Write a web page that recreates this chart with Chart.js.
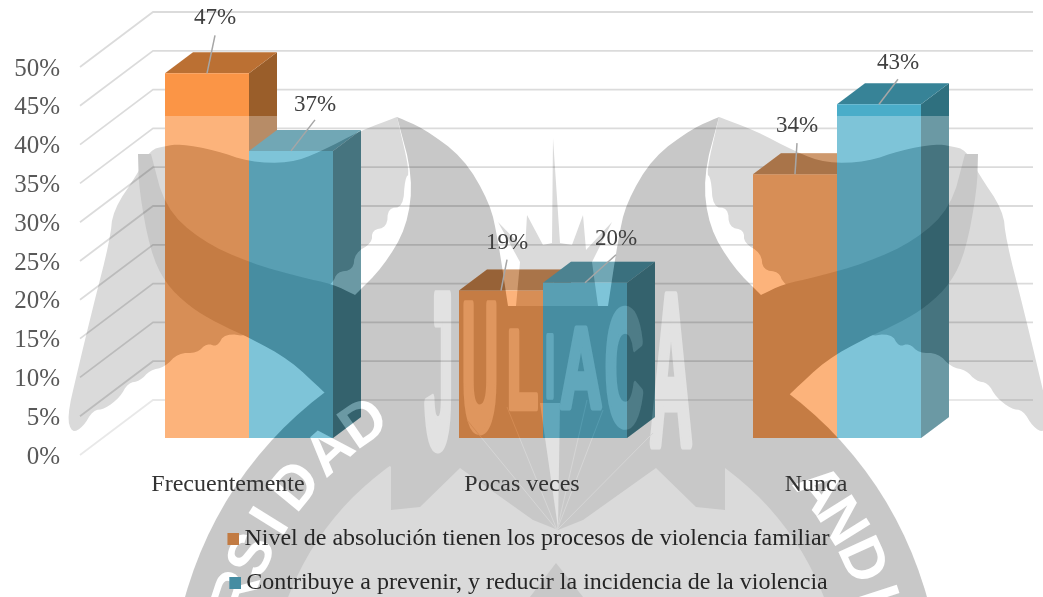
<!DOCTYPE html>
<html lang="es">
<head>
<meta charset="utf-8">
<title>Nivel de absolución</title>
<script src="https://cdn.jsdelivr.net/npm/chart.js@4/dist/chart.umd.min.js"></script>
<style>
  html, body { margin:0; padding:0; background:#fff; }
  canvas { display:block; }
</style>
</head>
<body>
<canvas id="chart" width="1043" height="597"></canvas>
<script>
// ---- datos -----------------------------------------------------------------
const categories = ["Frecuentemente", "Pocas veces", "Nunca"];
const absolucion = [47, 19, 34];
const contribuye = [37, 20, 43];
const seriesNames = [
  "Nivel de absolución tienen los procesos de violencia familiar",
  "Contribuye a prevenir, y reducir la incidencia de la violencia"
];

// ---- estilo ----------------------------------------------------------------
const frontColors  = ["#FB9546", "#4AADC9"];
const topColors    = ["#BB7033", "#378397"];
const sideColors   = ["#9A5E2A", "#2F707F"];
const legendColors = ["#C27B43", "#458CA2"];
const DEPTH_X = 28, DEPTH_Y = 21;        // fondo de cada barra 3D
const WALL_FRONT = { x:80,  dy:17 };     // extremo delantero de la grilla
const WALL_BACK  = { x:153, dy:-38, right:1033 };
const VEIL_Y = 116;                      // la marca de agua empieza aquí
const VEIL_ALPHA = 0.29;                 // opacidad de la marca de agua sobre las barras
// desplazamiento [dx, dy] etiqueta / arranque de la guía, por serie y categoría
const labelShift = [
  [[8,-55,-38],  [6,-48,-31],  [2,-48,-31]],
  [[24,-46,-31], [31,-44,-28], [19,-41,-25]]
];

// ---- marca de agua (escudo de fondo) ---------------------------------------
const MIRROR = 1116;
const chaikin = pts => {
  let out = pts;
  for (let k = 0; k < 2; k++) {
    const next = [out[0]];
    for (let i = 0; i < out.length - 1; i++) {
      const [a, b] = [out[i], out[i+1]];
      next.push([a[0]*.75+b[0]*.25, a[1]*.75+b[1]*.25], [a[0]*.25+b[0]*.75, a[1]*.25+b[1]*.75]);
    }
    next.push(out[out.length-1]);
    out = next;
  }
  return out;
};
const fillPoly = (c, pts, color) => {
  c.fillStyle = color;
  c.beginPath();
  pts.forEach((p, i) => i ? c.lineTo(p[0], p[1]) : c.moveTo(p[0], p[1]));
  c.closePath();
  c.fill();
};
const mirrored = pts => pts.map(p => [MIRROR - p[0], p[1]]);

function buildWatermark(){
  const cv = document.createElement("canvas");
  cv.width = 1043; cv.height = 597;
  const c = cv.getContext("2d");
  const LIGHT = "#DADADA", DARK = "#C8C8C8";
  c.fillStyle = "#fff"; c.fillRect(0, 0, 1043, 597);

  // alas
  const wing = chaikin([[397,117],[362,130],[320,152],[290,163],[249,162],[215,150],[180,144],[165,146],[150,150],
    [138,173],[113,210],[110,240],[93,307],[77,373],[67,417],[72,433],[83,427],[93,410],[105,409],[120,397],[128,383],
    [140,381],[150,370],[165,367],[178,353],[197,353],[207,343],[217,347],[225,333],[250,337],[300,310],[333,283],
    [337,272],[353,270],[355,253],[372,243],[372,230],[387,227],[388,208],[403,207],[405,178],[410,173],[397,117]]);
  fillPoly(c, wing, LIGHT);
  fillPoly(c, mirrored(wing), LIGHT);

  // anillo
  c.fillStyle = DARK;
  c.beginPath(); c.arc(556, 700, 385, 0, Math.PI*2); c.fill();
  c.fillStyle = LIGHT;
  c.beginPath(); c.arc(556, 700, 287, 0, Math.PI*2); c.fill();

  // cuerpo oscuro central
  const half = [
    [558,530],[533,520],[460,468],[420,507],[391,510],[391,467],
    ...chaikin([[325,393],[290,360],[250,338],[217,323],[190,307],[165,283],[150,250],[139,190],[138,154]]),
    ...chaikin([[151,154],[165,207],[200,240],[250,263],[300,277],[333,284],[355,295]]),
    ...chaikin([[355,295],[383,267],[407,227],[413,177],[397,117]]),
    ...chaikin([[397,117],[423,128],[463,157],[490,203],[498,240],[508,306]]),
    [558,306]
  ];
  fillPoly(c, [...half, ...mirrored(half).reverse()], DARK);
  fillPoly(c, [[556,563],[530,597],[583,597]], DARK);

  // sol y rayos
  fillPoly(c, [[516,306],[520,262],[498,222],[525,250],[527,215],[543,245],[552,243],[553,138],[560,243],
    [572,245],[583,215],[586,250],[612,222],[592,262],[598,306]], LIGHT);

  // JULIACA
  const letters = [["J",425,453,290,445],["U",462,498,300,428],["L",507,538,328,408],["I",545,555,333,397],
    ["A",560,602,325,407],["C",605,643,307,423],["A",650,692,290,443]];
  c.fillStyle = c.strokeStyle = "#E2E2E2";
  c.lineJoin = "round";
  c.font = "bold 100px 'Liberation Sans'";
  c.textAlign = "left"; c.textBaseline = "alphabetic";
  letters.forEach(([ch, x0, x1, y0, y1]) => {
    c.save();
    c.translate(x0, y1);
    c.scale((x1-x0)/c.measureText(ch).width, (y1-y0)/72);
    c.lineWidth = 6;
    c.strokeText(ch, 0, 0);
    c.fillText(ch, 0, 0);
    c.restore();
  });

  // abanico inferior
  fillPoly(c, [[540,403],[560,403],[558,528]], "#E2E2E2");
  c.strokeStyle = "#D6D6D6"; c.lineWidth = 1;
  [[467,420],[507,407],[587,400],[603,410],[653,433]].forEach(p => {
    c.beginPath(); c.moveTo(557,530); c.lineTo(p[0],p[1]); c.stroke();
  });

  // texto del anillo
  c.fillStyle = "#fff";
  c.font = "bold 60px 'Liberation Sans'";
  c.textAlign = "center"; c.textBaseline = "middle";
  [["D",-34.8],["A",-42.3],["D",-50.6],["I",-58],["S",-64.6],["R",-71.6],
   ["A",51.3],["N",58],["D",65.5],["I",72]].forEach(([ch, deg]) => {
    const a = deg*Math.PI/180;
    c.save();
    c.translate(556 + 335*Math.sin(a), 700 - 335*Math.cos(a));
    c.rotate(a);
    c.fillText(ch, 0, 0);
    c.restore();
  });
  return cv;
}
const watermark = buildWatermark();

// la misma imagen con el contraste que, a VEIL_ALPHA, da esos grises sobre blanco
function buildVeil(src){
  const cv = document.createElement("canvas");
  cv.width = src.width; cv.height = src.height;
  const c = cv.getContext("2d");
  const img = src.getContext("2d").getImageData(0, 0, src.width, src.height);
  for (let i = 0; i < img.data.length; i += 4) {
    const g = (img.data[i] - 255*(1 - VEIL_ALPHA)) / VEIL_ALPHA;
    img.data[i] = img.data[i+1] = img.data[i+2] = g;
  }
  c.putImageData(img, 0, 0);
  return cv;
}
const veil = buildVeil(watermark);

// muestra de leyenda: el lienzo sobresale a los lados para pegar el cuadro al texto
function legendSwatch(color){
  const cv = document.createElement("canvas");
  cv.width = 26; cv.height = 12;
  const c = cv.getContext("2d");
  c.fillStyle = color;
  c.fillRect(14, 0, 12, 12);
  return cv;
}

// ---- plugin: fondo, paredes, caras 3D y etiquetas ----------------------------
const bars3d = {
  id: "bars3d",
  afterLayout(chart){
    const lg = chart.legend;
    lg.left += 33; lg.right += 33;
    lg.top += 8; lg.bottom += 8;
  },
  beforeDraw(chart){
    chart.ctx.drawImage(watermark, 0, 0);
  },
  beforeDatasetsDraw(chart){
    const c = chart.ctx, y = chart.scales.y;
    c.save();
    y.ticks.forEach(t => {
      const py = y.getPixelForValue(t.value);
      c.strokeStyle = t.value === 0 ? "rgba(0,0,0,.09)" : "rgba(0,0,0,.14)";
      c.lineWidth = 1.8;
      c.beginPath();
      c.moveTo(WALL_FRONT.x, py + WALL_FRONT.dy);
      c.lineTo(WALL_BACK.x, py + WALL_BACK.dy);
      c.lineTo(WALL_BACK.right, py + WALL_BACK.dy);
      c.stroke();
    });
    // caras laterales y superiores: primero naranja, luego azul
    chart.data.datasets.forEach((d, i) => chart.getDatasetMeta(i).data.forEach(b => {
      const x0 = b.x - b.width/2, x1 = b.x + b.width/2;
      fillPoly(c, [[x1,b.base],[x1,b.y],[x1+DEPTH_X,b.y-DEPTH_Y],[x1+DEPTH_X,b.base-DEPTH_Y]], sideColors[i]);
      fillPoly(c, [[x0,b.y],[x0+DEPTH_X,b.y-DEPTH_Y],[x1+DEPTH_X,b.y-DEPTH_Y],[x1,b.y]], topColors[i]);
    }));
    c.restore();
  },
  afterDatasetsDraw(chart){
    const c = chart.ctx;
    // las barras también quedan bajo la marca de agua
    c.save();
    c.beginPath();
    chart.data.datasets.forEach((d, i) => chart.getDatasetMeta(i).data.forEach(b => {
      const x0 = b.x - b.width/2, x1 = b.x + b.width/2;
      c.moveTo(x0, b.base);
      c.lineTo(x0, b.y);
      c.lineTo(x0+DEPTH_X, b.y-DEPTH_Y);
      c.lineTo(x1+DEPTH_X, b.y-DEPTH_Y);
      c.lineTo(x1+DEPTH_X, b.base-DEPTH_Y);
      c.lineTo(x1, b.base);
      c.closePath();
    }));
    c.clip();
    c.globalAlpha = VEIL_ALPHA;
    c.drawImage(veil, 0, VEIL_Y, 1043, 597 - VEIL_Y, 0, VEIL_Y, 1043, 597 - VEIL_Y);
    c.restore();

    // etiquetas con línea guía
    c.save();
    c.font = "23px 'Liberation Serif'";
    c.textAlign = "center"; c.textBaseline = "middle";
    chart.data.datasets.forEach((d, i) => chart.getDatasetMeta(i).data.forEach((b, j) => {
      const [dx, dy, lineY] = labelShift[i][j];
      c.strokeStyle = "#A6A6A6"; c.lineWidth = 1.5;
      c.beginPath();
      c.moveTo(b.x + dx, b.y + lineY);
      c.lineTo(b.x, b.y);
      c.stroke();
      c.fillStyle = "#404040";
      c.fillText(d.data[j] + "%", b.x + dx, b.y + dy);
    }));
    c.restore();
  }
};

// ---- chart -----------------------------------------------------------------
new Chart(document.getElementById("chart"), {
  type: "bar",
  data: {
    labels: categories,
    datasets: [
      { label: seriesNames[0], data: absolucion, backgroundColor: frontColors[0] },
      { label: seriesNames[1], data: contribuye, backgroundColor: frontColors[1] }
    ]
  },
  options: {
    responsive: false,
    animation: false,
    layout: { padding: { left:0, right:59, top:50, bottom:0 } },
    datasets: { bar: { categoryPercentage: 0.5714, barPercentage: 1 } },
    scales: {
      x: {
        // tickLength hace de separación: ticks.padding infla los márgenes del layout
        grid: { display:false, drawTicks:true, tickLength:32 },
        border: { display:false },
        afterFit: s => { s.height = 61; },
        ticks: { maxRotation:0, padding:0, labelOffset:-21, color:"#333333",
                 font: { family:"'Liberation Serif'", size:24 } }
      },
      y: {
        min: 0, max: 50,
        grid: { display:false, drawTicks:true, tickLength:42 },
        border: { display:false },
        afterFit: s => { s.width = 102; },
        ticks: { stepSize:5, padding:0, labelOffset:19, color:"#595959",
                 font: { family:"'Liberation Serif'", size:25 },
                 callback: v => v + "%" }
      }
    },
    plugins: {
      tooltip: { enabled:false },
      legend: {
        position: "bottom",
        labels: {
          usePointStyle: true, boxWidth: 12, boxHeight: 12, padding: 20, color: "#262626",
          font: { family:"'Liberation Serif'", size:24 },
          generateLabels: chart => Chart.defaults.plugins.legend.labels.generateLabels(chart)
            .map((l, i) => ({ ...l, pointStyle:legendSwatch(legendColors[i]), lineWidth:0 }))
        }
      }
    }
  },
  plugins: [bars3d]
});
</script>
</body>
</html>
